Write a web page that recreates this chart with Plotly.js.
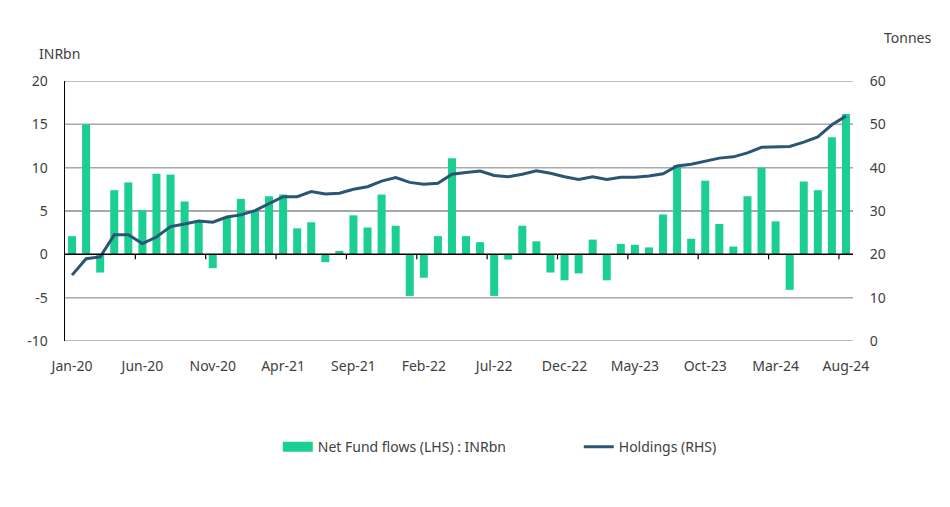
<!DOCTYPE html>
<html>
<head>
<meta charset="utf-8">
<script src="https://cdn.plot.ly/plotly-3.0.1.min.js"></script>
<style>html,body{margin:0;padding:0;background:#fff;}#chart{width:950px;height:507px;}</style>
</head>
<body>
<div id="chart"></div>
<script>
const months = ["Jan-20","Feb-20","Mar-20","Apr-20","May-20","Jun-20","Jul-20","Aug-20","Sep-20","Oct-20","Nov-20","Dec-20",
"Jan-21","Feb-21","Mar-21","Apr-21","May-21","Jun-21","Jul-21","Aug-21","Sep-21","Oct-21","Nov-21","Dec-21",
"Jan-22","Feb-22","Mar-22","Apr-22","May-22","Jun-22","Jul-22","Aug-22","Sep-22","Oct-22","Nov-22","Dec-22",
"Jan-23","Feb-23","Mar-23","Apr-23","May-23","Jun-23","Jul-23","Aug-23","Sep-23","Oct-23","Nov-23","Dec-23",
"Jan-24","Feb-24","Mar-24","Apr-24","May-24","Jun-24","Jul-24","Aug-24"];

const netFlows = [2.1,15.0,-2.1,7.4,8.3,5.1,9.3,9.2,6.1,3.8,-1.6,4.3,
6.4,5.1,6.7,6.9,3.0,3.7,-0.9,0.4,4.5,3.1,6.9,3.3,
-4.8,-2.7,2.1,11.1,2.1,1.4,-4.8,-0.6,3.3,1.5,-2.1,-3.0,
-2.2,1.7,-3.0,1.2,1.1,0.8,4.6,10.3,1.8,8.5,3.5,0.9,
6.7,10.0,3.8,-4.1,8.4,7.4,13.5,16.2];

const holdings = [15.2,19.0,19.4,24.5,24.5,22.5,24.0,26.4,27.0,27.7,27.4,28.6,
29.1,30.1,31.7,33.3,33.3,34.5,33.9,34.1,35.0,35.6,36.9,37.7,
36.6,36.2,36.4,38.5,38.9,39.2,38.2,37.9,38.5,39.3,38.7,37.9,
37.3,37.9,37.3,37.8,37.8,38.1,38.6,40.4,40.8,41.5,42.2,42.5,
43.4,44.7,44.8,44.9,45.9,47.1,49.9,51.9];

const leftTicks = [-10, -5, 0, 5, 10, 15, 20];
const rightTicks = [0, 10, 20, 30, 40, 50, 60];

const txt = "#404040";
const fnt = {family: "Noto Sans, Open Sans, sans-serif", size: 14, color: txt};
const barColor = "#1bcf93";
const clear = "rgba(0,0,0,0)";
const gridColor = "#a8a8a8";

const traces = [
  {type: "bar", x: months, y: netFlows, name: "Net Fund flows (LHS) : INRbn",
   marker: {color: barColor}, yaxis: "y", xaxis: "x", showlegend: false},
  {type: "scatter", mode: "lines", x: [null], y: [null], name: "Net Fund flows (LHS) : INRbn",
   line: {color: barColor, width: 18}, yaxis: "y", xaxis: "x", hoverinfo: "skip"},
  {type: "scatter", mode: "lines", x: months, y: holdings, name: "Holdings (RHS)",
   line: {color: "#2a5673", width: 3}, yaxis: "y2", xaxis: "x"}
];

// horizontal gridlines at the left-axis tick values, drawn as thin filled bands
const gridShapes = leftTicks.filter(v => v !== 0).map(v => ({
  type: "rect", layer: "below", xref: "paper", x0: 0, x1: 1,
  yref: "y", ysizemode: "pixel", yanchor: v, y0: -0.75, y1: 0.75,
  fillcolor: gridColor, line: {width: 0}
}));
// category axis drawn across zero
const zeroAxis = [{
  type: "rect", layer: "above", xref: "paper", x0: 0, x1: 1,
  yref: "y", ysizemode: "pixel", yanchor: 0, y0: -0.75, y1: 0.75,
  fillcolor: "#000", line: {width: 0}
}];
// tick marks at every 5th category boundary
const tickShapes = months.map((m, i) => i).filter(i => i > 0 && i % 5 === 0).map(i => ({
  type: "line", layer: "above", xref: "x", x0: i - 0.5, x1: i - 0.5,
  yref: "y", ysizemode: "pixel", yanchor: 0, y0: 0, y1: -5,
  line: {color: "#000", width: 1.2}
}));

const layout = {
  width: 950, height: 507,
  margin: {l: 65, r: 97, t: 81, b: 166},
  paper_bgcolor: "#fff", plot_bgcolor: "#fff",
  font: fnt,
  bargap: 0.43,
  showlegend: true,
  legend: {orientation: "h", x: 0.652, xanchor: "center", y: -0.408, yanchor: "middle",
           font: fnt, traceorder: "normal", entrywidth: 256, entrywidthmode: "pixels"},
  xaxis: {type: "category", range: [-0.5, months.length - 0.5], tickmode: "linear", tick0: 0, dtick: 5,
          showline: false, showgrid: false, zeroline: false,
          ticks: "outside", ticklen: 12, tickcolor: clear, tickfont: fnt},
  yaxis: {range: [-10, 20], tickmode: "array", tickvals: leftTicks, ticktext: leftTicks.map(String),
          showgrid: true, gridcolor: gridColor, gridwidth: 1.5,
          zeroline: true, zerolinecolor: "#000", zerolinewidth: 1.5,
          showline: true, linecolor: "#000", linewidth: 1.5,
          ticks: "outside", ticklen: 13, tickcolor: clear, tickfont: fnt},
  yaxis2: {range: [0, 60], tickmode: "array", tickvals: rightTicks, ticktext: rightTicks.map(String),
           overlaying: "y", side: "right",
           showgrid: false, zeroline: false, showline: false,
           ticks: "outside", ticklen: 13, tickcolor: clear, tickfont: fnt},
  shapes: gridShapes.concat(zeroAxis, tickShapes),
  annotations: [
    {text: "INRbn", xref: "paper", yref: "paper", x: -0.0355, y: 1.104, xanchor: "left", yanchor: "middle",
     showarrow: false, font: fnt},
    {text: "Tonnes", xref: "paper", yref: "paper", x: 1.0368, y: 1.169, xanchor: "left", yanchor: "middle",
     showarrow: false, font: fnt}
  ]
};

Plotly.newPlot("chart", traces, layout, {displayModeBar: false, staticPlot: true});
</script>
</body>
</html>
